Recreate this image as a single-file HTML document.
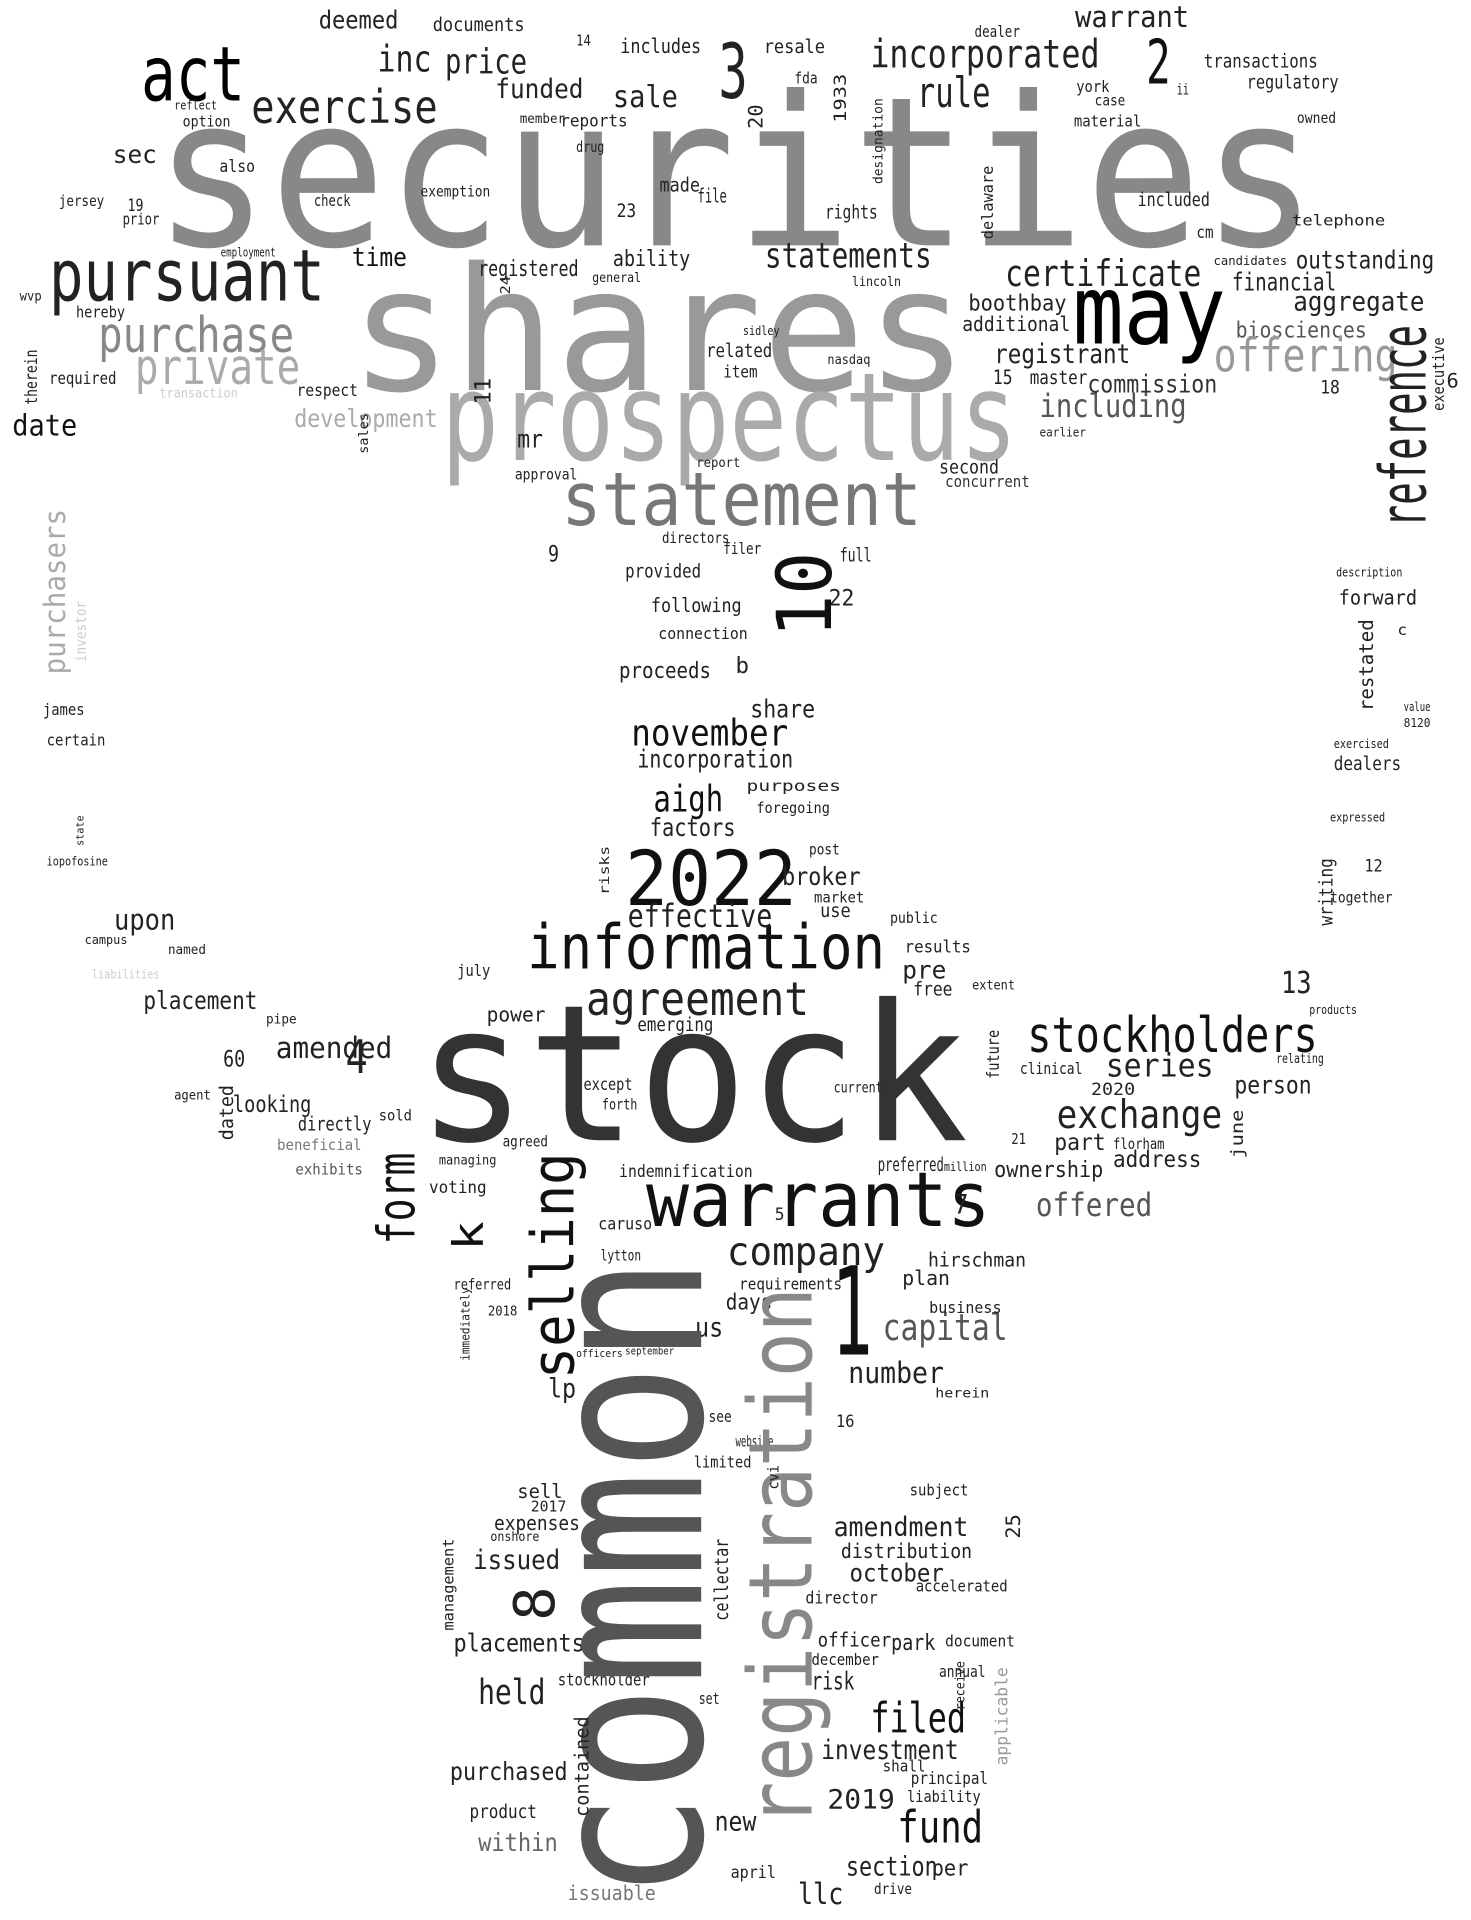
<!DOCTYPE html>
<html><head><meta charset="utf-8"><title>Word cloud</title>
<style>
html,body{margin:0;padding:0;background:#fff;}
svg{display:block;}
</style></head>
<body>
<svg id="cloud" width="1471" height="1920" viewBox="0 0 1200 1566" xmlns="http://www.w3.org/2000/svg" font-family="'DejaVu Sans Mono','Liberation Mono',monospace">
<rect width="1200" height="1566" fill="#fff"/>
<g id="words"></g>
</svg>
<script>
// [text, x, baselineY, fontSize, width, color, rotated]
const words = [
["securities",125,200,170,950,"#888",0],
["shares",285,318,140,505,"#999",0],
["prospectus",360,375,100,470,"#aaa",0],
["statement",458,428,60,294,"#777",0],
["stock",340,930,155,450,"#333",0],
["warrants",527,1000,62,281,"#111",0],
["information",430,790,50,292,"#111",0],
["agreement",478,828,38,182,"#222",0],
["2022",510,738,62,140,"#111",0],
["may",875,280,78,125,"#000",0],
["pursuant",40,245,58,225,"#222",0],
["act",115,82,62,85,"#000",0],
["exercise",205,100,38,152,"#222",0],
["inc",308,58,30,44,"#222",0],
["price",363,60,28,67,"#222",0],
["funded",404,80,22,72,"#222",0],
["3",586,80,62,24,"#222",0],
["sale",500,87,25,53,"#222",0],
["incorporated",710,55,32,187,"#222",0],
["2",935,68,50,20,"#111",0],
["rule",748,87,34,60,"#222",0],
["warrant",877,22,24,93,"#222",0],
["deemed",260,23,20,65,"#222",0],
["documents",353,25,15,75,"#222",0],
["includes",506,43,17,66,"#222",0],
["resale",623,43,15,50,"#222",0],
["transactions",982,55,15,93,"#222",0],
["regulatory",1017,72,15,75,"#222",0],
["purchase",80,287,40,160,"#888",0],
["private",110,313,40,135,"#aaa",0],
["date",10,355,24,53,"#111",0],
["sec",92,133,20,36,"#222",0],
["time",287,217,21,45,"#111",0],
["statements",624,218,28,136,"#222",0],
["certificate",820,233,30,160,"#222",0],
["outstanding",1057,219,20,113,"#222",0],
["financial",1005,237,20,85,"#222",0],
["aggregate",1055,253,22,107,"#222",0],
["boothbay",790,253,18,80,"#222",0],
["additional",785,270,17,88,"#222",0],
["biosciences",1008,275,18,107,"#555",0],
["registrant",811,296,22,111,"#222",0],
["offering",990,303,38,150,"#999",0],
["including",848,340,26,120,"#555",0],
["commission",887,320,20,106,"#333",0],
["development",240,348,20,117,"#aaa",0],
["mr",422,365,20,21,"#222",0],
["registered",390,225,18,82,"#222",0],
["ability",500,217,18,63,"#222",0],
["november",515,608,30,128,"#111",0],
["incorporation",520,626,20,127,"#222",0],
["aigh",533,662,30,57,"#111",0],
["factors",530,682,20,70,"#222",0],
["share",612,585,20,53,"#222",0],
["proceeds",505,553,18,75,"#222",0],
["effective",512,756,26,118,"#222",0],
["broker",638,722,20,64,"#222",0],
["upon",93,758,23,50,"#222",0],
["placement",117,823,20,93,"#222",0],
["amended",225,863,24,95,"#222",0],
["stockholders",838,858,40,237,"#111",0],
["series",902,878,26,88,"#222",0],
["exchange",862,920,32,135,"#222",0],
["person",1007,892,20,63,"#222",0],
["13",1045,810,25,25,"#222",0],
["company",593,1032,32,129,"#222",0],
["capital",720,1093,30,102,"#555",0],
["number",692,1128,24,78,"#222",0],
["1",678,1105,100,34,"#111",0],
["4",282,875,38,18,"#222",0],
["offered",845,992,26,95,"#555",0],
["held",390,1390,28,55,"#222",0],
["filed",710,1413,34,78,"#111",0],
["investment",670,1435,22,112,"#222",0],
["fund",732,1503,36,70,"#111",0],
["2019",675,1475,22,55,"#222",0],
["llc",651,1553,24,37,"#222",0],
["section",690,1530,22,75,"#222",0],
["new",583,1493,22,34,"#222",0],
["purchased",367,1452,20,96,"#222",0],
["within",390,1510,20,65,"#666",0],
["issuable",463,1550,17,72,"#777",0],
["amendment",680,1253,22,110,"#222",0],
["october",693,1290,20,77,"#222",0],
["distribution",686,1271,17,107,"#222",0],
["issued",386,1280,22,71,"#222",0],
["expenses",403,1248,17,70,"#222",0],
["placements",370,1347,20,107,"#222",0],
["us",567,1090,22,23,"#222",0],
["lp",447,1140,22,23,"#222",0],
["days",592,1068,18,38,"#222",0],
["hirschman",757,1033,16,80,"#222",0],
["plan",736,1048,17,39,"#222",0],
["address",908,952,19,72,"#222",0],
["ownership",811,960,18,89,"#222",0],
["preferred",716,955,15,54,"#222",0],
["part",860,938,19,42,"#222",0],
["looking",190,907,19,64,"#222",0],
["directly",243,922,16,60,"#222",0],
["power",397,833,17,48,"#222",0],
["pre",736,798,20,36,"#222",0],
["60",182,870,18,18,"#222",0],
["following",531,499,16,74,"#222",0],
["full",685,458,15,26,"#222",0],
["provided",510,471,15,62,"#222",0],
["22",676,494,18,21,"#222",0],
["9",447,458,18,9,"#222",0],
["forward",1092,493,17,64,"#222",0],
["dealers",1088,628,15,55,"#222",0],
["together",1085,736,12,51,"#222",0],
["12",1113,711,14,15,"#222",0],
["second",766,386,15,49,"#222",0],
["concurrent",771,397,13,69,"#333",0],
["master",840,313,15,47,"#222",0],
["15",810,313,16,16,"#222",0],
["related",576,291,15,54,"#222",0],
["item",590,308,14,28,"#222",0],
["file",569,165,16,24,"#222",0],
["made",538,156,16,33,"#222",0],
["rights",673,178,15,43,"#222",0],
["23",503,177,15,16,"#222",0],
["also",179,140,14,29,"#222",0],
["check",256,168,13,30,"#222",0],
["exemption",343,160,12,57,"#222",0],
["included",928,168,15,59,"#222",0],
["telephone",1054,184,12,76,"#222",0],
["cm",976,194,14,14,"#222",0],
["james",35,583,13,34,"#222",0],
["certain",38,608,13,48,"#222",0],
["b",600,549,18,11,"#222",0],
["c",1140,518,12,8,"#222",0],
["risk",662,1378,20,35,"#222",0],
["park",727,1346,18,36,"#222",0],
["officer",667,1343,16,60,"#222",0],
["december",662,1358,13,55,"#222",0],
["director",657,1308,14,59,"#222",0],
["annual",766,1368,13,38,"#222",0],
["accelerated",747,1298,13,75,"#222",0],
["document",771,1343,13,57,"#222",0],
["principal",743,1455,14,63,"#222",0],
["liability",740,1470,13,60,"#222",0],
["shall",720,1445,13,35,"#222",0],
["per",760,1530,18,30,"#222",0],
["april",596,1532,14,37,"#222",0],
["drive",713,1545,12,31,"#222",0],
["sell",422,1222,16,37,"#222",0],
["stockholder",455,1375,14,75,"#222",0],
["product",383,1483,15,55,"#222",0],
["set",570,1390,13,17,"#222",0],
["see",578,1160,13,19,"#222",0],
["website",600,1180,12,31,"#222",0],
["limited",566,1197,13,47,"#222",0],
["subject",742,1220,13,48,"#222",0],
["business",758,1071,13,59,"#222",0],
["herein",763,1140,11,44,"#222",0],
["16",682,1164,14,15,"#222",0],
["requirements",603,1052,13,84,"#222",0],
["5",632,995,14,8,"#222",0],
["7",778,990,22,12,"#222",0],
["caruso",488,1003,14,44,"#222",0],
["lytton",490,1028,12,33,"#222",0],
["indemnification",505,960,14,109,"#222",0],
["voting",350,973,14,47,"#222",0],
["agreed",410,935,12,37,"#222",0],
["sold",309,914,12,27,"#222",0],
["except",476,889,14,40,"#222",0],
["forth",491,905,12,29,"#222",0],
["emerging",520,841,15,62,"#222",0],
["clinical",832,876,13,51,"#222",0],
["2020",890,893,14,36,"#222",0],
["current",680,891,12,40,"#222",0],
["free",745,812,15,32,"#222",0],
["results",738,777,14,54,"#222",0],
["public",726,753,12,39,"#222",0],
["use",669,748,15,25,"#222",0],
["market",664,736,12,41,"#222",0],
["post",660,697,12,25,"#222",0],
["purposes",609,645,12,77,"#222",0],
["foregoing",617,663,12,60,"#222",0],
["connection",537,521,13,73,"#222",0],
["july",373,796,13,27,"#222",0],
["extent",793,807,11,35,"#222",0],
["21",825,933,12,12,"#222",0],
["florham",908,937,12,42,"#222",0],
["beneficial",226,938,12,69,"#777",0],
["exhibits",241,958,12,55,"#555",0],
["managing",358,950,11,47,"#222",0],
["million",770,955,10,35,"#222",0],
["relating",1041,867,11,39,"#222",0],
["products",1068,827,10,39,"#222",0],
["named",137,778,11,31,"#222",0],
["campus",69,770,10,35,"#222",0],
["2018",398,1073,11,24,"#222",0],
["referred",370,1052,12,47,"#222",0],
["2017",433,1233,12,29,"#222",0],
["onshore",400,1257,11,40,"#222",0],
["6",1180,316,16,10,"#222",0],
["18",1077,321,15,16,"#222",0],
["hereby",62,259,13,40,"#222",0],
["required",40,313,14,55,"#222",0],
["wvp",16,245,11,18,"#222",0],
["jersey",48,168,12,37,"#222",0],
["19",104,172,14,13,"#222",0],
["prior",100,183,13,30,"#222",0],
["respect",242,323,14,50,"#222",0],
["option",149,103,12,39,"#222",0],
["reports",457,103,14,55,"#222",0],
["14",470,37,12,12,"#222",0],
["fda",648,68,13,19,"#222",0],
["dealer",795,30,13,37,"#222",0],
["ii",960,77,12,10,"#222",0],
["york",878,75,13,27,"#222",0],
["case",893,86,12,25,"#222",0],
["material",876,103,13,55,"#222",0],
["owned",1058,100,12,32,"#222",0],
["transaction",130,324,11,64,"#ccc",0],
["liabilities",75,798,10,55,"#ccc",0],
["iopofosine",38,706,10,50,"#222",0],
["description",1090,470,10,54,"#222",0],
["exercised",1088,610,10,45,"#222",0],
["expressed",1085,670,10,45,"#222",0],
["value",1145,580,10,22,"#222",0],
["8120",1145,593,10,22,"#222",0],
["september",510,1105,9,40,"#222",0],
["officers",470,1107,9,38,"#222",0],
["pipe",217,835,11,25,"#222",0],
["agent",142,897,11,30,"#222",0],
["employment",180,209,10,45,"#222",0],
["approval",420,391,12,51,"#222",0],
["directors",540,443,12,55,"#222",0],
["filer",590,452,13,31,"#222",0],
["general",483,230,11,40,"#222",0],
["lincoln",695,233,11,40,"#222",0],
["nasdaq",675,297,11,35,"#222",0],
["sidley",606,273,10,30,"#222",0],
["report",568,381,11,36,"#222",0],
["earlier",848,356,10,38,"#222",0],
["candidates",990,216,10,60,"#222",0],
["reflect",142,89,10,35,"#222",0],
["member",424,100,11,37,"#222",0],
["drug",470,124,12,23,"#222",0],
["sales",300,370,11,0,"#222",1],
["therein",30,330,14,45,"#222",1],
["common",572,1550,175,525,"#555",1],
["registration",662,1490,72,440,"#888",1],
["selling",468,1125,48,185,"#111",1],
["form",338,1015,42,75,"#111",1],
["k",394,1020,34,24,"#111",1],
["8",452,1322,46,28,"#222",1],
["10",678,520,62,70,"#111",1],
["reference",1163,430,52,165,"#222",1],
["purchasers",53,550,24,135,"#aaa",1],
["investor",70,540,12,50,"#ccc",1],
["restated",1120,580,16,75,"#222",1],
["writing",1087,755,15,55,"#222",1],
["executive",1178,335,13,60,"#222",1],
["dated",190,930,15,45,"#222",1],
["future",815,880,14,40,"#222",1],
["june",1014,945,14,40,"#222",1],
["contained",480,1482,16,82,"#222",1],
["cellectar",594,1322,15,67,"#222",1],
["management",370,1330,12,75,"#222",1],
["applicable",822,1440,14,80,"#999",1],
["25",832,1255,16,20,"#222",1],
["immediately",383,1110,10,60,"#222",1],
["cvi",635,1215,12,20,"#222",1],
["receive",787,1395,11,40,"#222",1],
["1933",690,100,14,40,"#222",1],
["20",622,105,16,20,"#222",1],
["designation",720,150,11,70,"#222",1],
["delaware",810,195,13,60,"#222",1],
["state",68,690,9,25,"#222",1],
["risks",497,730,11,40,"#222",1],
["11",400,330,18,22,"#222",1],
["24",416,240,11,15,"#222",1]
];
const g = document.getElementById('words');
const NS = 'http://www.w3.org/2000/svg';
words.forEach(function (w) {
  const el = document.createElementNS(NS, 'text');
  el.textContent = w[0];
  el.setAttribute('font-size', w[3]);
  el.setAttribute('fill', w[5]);
  if (w[4] > 0) {
    el.setAttribute('textLength', w[4]);
    el.setAttribute('lengthAdjust', 'spacingAndGlyphs');
  }
  if (w[6]) {
    el.setAttribute('x', 0);
    el.setAttribute('y', 0);
    el.setAttribute('transform', 'translate(' + w[1] + ',' + w[2] + ') rotate(-90)');
  } else {
    el.setAttribute('x', w[1]);
    el.setAttribute('y', w[2]);
  }
  
  
  g.appendChild(el);
});
</script>
</body></html>
